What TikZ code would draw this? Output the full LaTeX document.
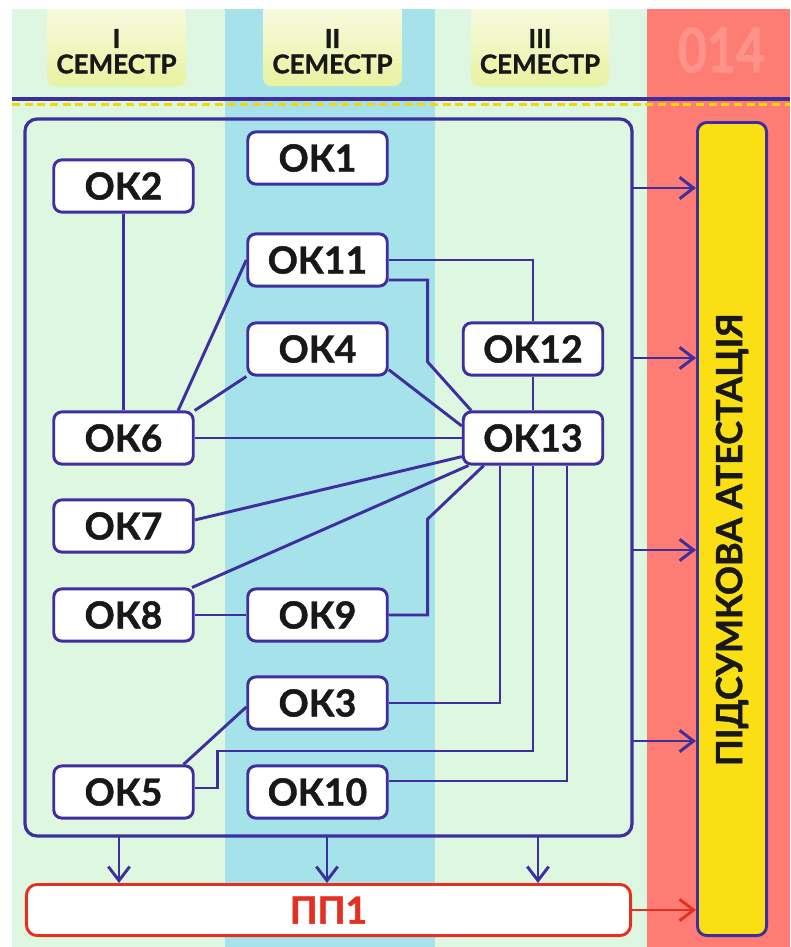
\documentclass[tikz,border=0pt]{standalone}
\usepackage{fontspec}
\setmainfont{Lato}[BoldFeatures={FakeBold=1.2}]
\usetikzlibrary{arrows.meta,fit}
\definecolor{ink}{RGB}{62,46,158}
\definecolor{bggreen}{RGB}{221,247,224}
\definecolor{bgblue}{RGB}{166,226,234}
\definecolor{bgred}{RGB}{253,124,115}
\definecolor{codetxt}{RGB}{255,146,138}
\definecolor{attyellow}{RGB}{249,223,20}
\definecolor{ppred}{RGB}{228,48,32}
\definecolor{dashyellow}{RGB}{246,214,0}
\definecolor{hdrtop}{RGB}{251,252,238}
\definecolor{hdrbot}{RGB}{232,242,160}
\definecolor{txt}{RGB}{24,24,24}
\pgfdeclarelayer{bg}
\pgfdeclarelayer{edges}
\pgfsetlayers{bg,edges,main}
\begin{document}
\begin{tikzpicture}[x=0.75pt,y=-0.75pt,
  okbox/.style={draw=ink, line width=2.2pt, fill=white, rounded corners=6pt,
    minimum width=104.6pt, minimum height=39.1pt, inner sep=0pt,
    font=\bfseries\fontsize{28}{30}\selectfont, text=txt},
  link/.style={draw=ink, line width=2.2pt},
  arr/.style={draw=ink, line width=2.2pt, -{Straight Barb[length=10.5pt,width=16pt]}},
  hdr/.style={font=\bfseries\fontsize{19.5}{20}\selectfont, text=txt, inner sep=0pt},
  hdrbox/.style={rounded corners=6pt, top color=hdrtop, bottom color=hdrbot}]
\useasboundingbox (0,0) rectangle (790,947);
% ---------- background ----------
\begin{pgfonlayer}{bg}
  \fill[white] (0,0) rectangle (790,947);
  \fill[bggreen] (12,9) rectangle (225,947);
  \fill[bgblue] (225,9) rectangle (435,947);
  \fill[bggreen] (435,9) rectangle (647,947);
  \fill[bgred] (647,9) rectangle (790,947);
  \begin{scope}
    \clip (0,9) rectangle (790,947);
    \path[hdrbox] (47,-10) rectangle (186,86);
    \path[hdrbox] (263,-10) rectangle (402,86);
    \path[hdrbox] (471,-10) rectangle (609,86);
  \end{scope}
  \draw[ink, line width=3pt] (12,99) -- (790,99);
  \draw[dashyellow, line width=1.6pt, dash pattern=on 6pt off 3.5pt] (12,104.5) -- (790,104.5);
\end{pgfonlayer}
% ---------- header texts ----------
\node[hdr] (s1n) at (116.5,38.5) {I};
\node[hdr] (s1t) at (116.5,64) {СЕМЕСТР};
\node[hdr] (s2n) at (332.5,38.5) {II};
\node[hdr] (s2t) at (332.5,64) {СЕМЕСТР};
\node[hdr] (s3n) at (540,38.5) {III};
\node[hdr] (s3t) at (540,64) {СЕМЕСТР};
\node[font=\bfseries\fontsize{46}{48}\selectfont, text=codetxt, inner sep=0pt] (code) at (721.5,50) {\scalebox{0.82}[1]{014}};
% ---------- outer frame ----------
\coordinate (onw) at (25,119);
\coordinate (ose) at (632,836);
\node[fit=(onw)(ose), inner sep=0pt, draw=ink, line width=2.4pt, rounded corners=9pt] (outer) {};
% ---------- nodes ----------
\node[okbox] (ok2)  at (123.5,186) {ОК2};
\node[okbox] (ok1)  at (317.5,158) {ОК1};
\node[okbox] (ok11) at (317.5,260) {ОК11};
\node[okbox] (ok4)  at (317.5,349) {ОК4};
\node[okbox] (ok12) at (533,349) {ОК12};
\node[okbox] (ok6)  at (123.5,438) {ОК6};
\node[okbox] (ok13) at (533,438) {ОК13};
\node[okbox] (ok7)  at (123.5,526) {ОК7};
\node[okbox] (ok8)  at (123.5,615) {ОК8};
\node[okbox] (ok9)  at (317.5,615) {ОК9};
\node[okbox] (ok3)  at (317.5,703) {ОК3};
\node[okbox] (ok5)  at (123.5,792) {ОК5};
\node[okbox] (ok10) at (317.5,792) {ОК10};
% attestation box
\node[draw=ink, line width=2.2pt, fill=attyellow, rounded corners=7pt,
      minimum width=51.8pt, minimum height=609.8pt, inner sep=0pt] (att) at (732,529) {};
\node[rotate=90, font=\bfseries\fontsize{27}{29}\selectfont, text=txt, inner sep=0pt]
      (atttext) at ([yshift=-8pt]att.center) {ПІДСУМКОВА АТЕСТАЦІЯ};
% practice box
\node[draw=ppred, line width=2.2pt, fill=white, rounded corners=8pt,
      minimum width=453.1pt, minimum height=38.3pt, inner sep=0pt,
      font=\bfseries\fontsize{28}{30}\selectfont, text=ppred] (pp1) at (328.5,910) {ПП1};
% ---------- connectors ----------
\begin{pgfonlayer}{edges}
  \draw[link] (ok2.south) -- (ok6.north);
  \draw[link] ([xshift=41pt]ok6.north) -- (ok11.west);
  \draw[link] (ok6.north east) -- (ok4.south west);
  \draw[link] (ok6.east) -- (ok13.west);
  \draw[link] (ok11.east) -| (ok12.north);
  \draw[link] ([yshift=-15pt]ok11.east) -- ++(39,0) -- ++(0,82) -- ([xshift=7pt]ok13.north west);
  \draw[link] ([yshift=-15.5pt]ok4.east) -- ([yshift=9pt]ok13.west);
  \draw[link] (ok12.south) -- (ok13.north);
  \draw[link] ([yshift=4.5pt]ok7.east) -- ([yshift=-14pt]ok13.west);
  \draw[link] ([xshift=-2pt]ok8.north east) -- ([xshift=5pt]ok13.south west);
  \draw[link] (ok8.east) -- (ok9.west);
  \draw[link] (ok9.east) -- ++(39,0) -- ++(0,-96) -- ([xshift=16.5pt]ok13.south west);
  \draw[link] (ok3.east) -| ([xshift=-24.75pt]ok13.south);
  \draw[link] ([yshift=3pt]ok5.east) -- ++(23,0) -- ++(0,-37) -| (ok13.south);
  \draw[link] ([xshift=45pt]ok5.north) -- ([yshift=-3pt]ok3.west);
  \draw[link] ([yshift=8.25pt]ok10.east) -| ([xshift=25.5pt]ok13.south);
\end{pgfonlayer}
% ---------- arrows ----------
\coordinate (r1) at (632,188);
\coordinate (r2) at (632,358);
\coordinate (r3) at (632,550);
\coordinate (r4) at (632,741);
\foreach \c in {r1,r2,r3,r4}{\draw[arr] (\c) -- (\c -| att.west);}
\coordinate (d1) at (119,836);
\coordinate (d2) at (327,836);
\coordinate (d3) at (538,836);
\foreach \c in {d1,d2,d3}{\draw[arr] (\c) -- (\c |- pp1.north);}
\draw[arr, draw=ppred] (pp1.east) -- (pp1.east -| att.west);
\end{tikzpicture}
\end{document}
